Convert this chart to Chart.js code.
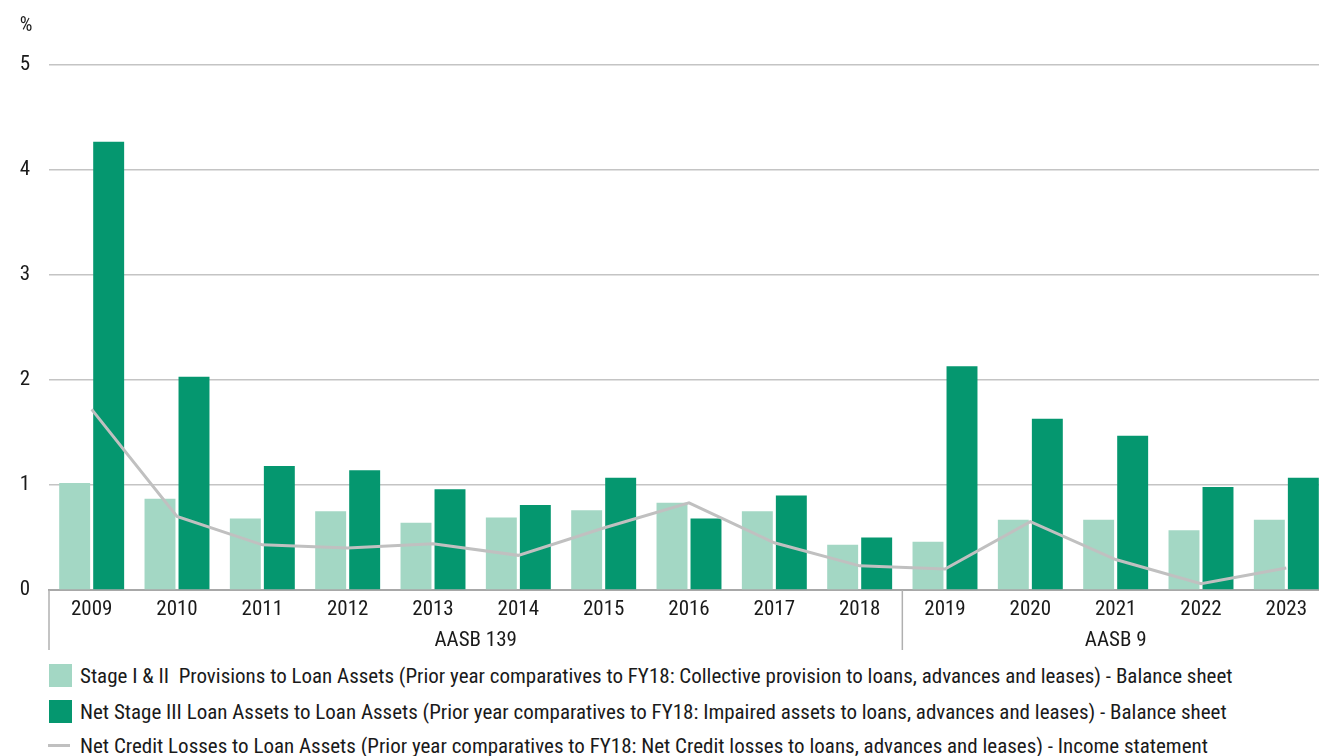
<!DOCTYPE html>
<html>
<head>
<meta charset="utf-8">
<script src="https://cdn.jsdelivr.net/npm/chart.js@4.4.1/dist/chart.umd.min.js"></script>
<style>
  html, body { margin: 0; padding: 0; background: #ffffff; overflow: hidden; width: 1319px; height: 756px; }
  #wrap { position: absolute; left: 0; top: 0; width: 1330px; height: 660px; }
  .leg { position: absolute; left: 0; height: 24px; font-family: 'Roboto Condensed', 'DejaVu Sans Condensed', sans-serif; font-size: 21px; line-height: 24px; color: #1a1a1a; white-space: nowrap; }
  .leg .sw { position: absolute; left: 49px; top: 0px; width: 23px; height: 23px; }
  .leg .ln { position: absolute; left: 48px; top: 10px; width: 22px; height: 3px; background: #c0c0c0; }
  .leg .tx { position: absolute; left: 80px; top: 0px; }
</style>
</head>
<body>
<div id="wrap"><canvas id="c"></canvas></div>
<div class="leg" style="top:664px"><div class="sw" style="background:#a3d7c4"></div><div class="tx">Stage I &amp; II&nbsp; Provisions to Loan Assets (Prior year comparatives to FY18: Collective provision to loans, advances and leases) - Balance sheet</div></div>
<div class="leg" style="top:700px"><div class="sw" style="background:#05976f"></div><div class="tx">Net Stage III Loan Assets to Loan Assets (Prior year comparatives to FY18: Impaired assets to loans, advances and leases) - Balance sheet</div></div>
<div class="leg" style="top:734px"><div class="ln"></div><div class="tx">Net Credit Losses to Loan Assets (Prior year comparatives to FY18: Net Credit losses to loans, advances and leases) - Income statement</div></div>
<script>
const categories = ['2009','2010','2011','2012','2013','2014','2015','2016','2017','2018','2019','2020','2021','2022','2023'];
const stage12Provisions = [1.02,0.87,0.68,0.75,0.64,0.69,0.76,0.83,0.75,0.43,0.46,0.67,0.67,0.57,0.67];
const netStage3 = [4.27,2.03,1.18,1.14,0.96,0.81,1.07,0.68,0.90,0.50,2.13,1.63,1.47,0.98,1.07];
const netCreditLosses = [1.72,0.70,0.43,0.40,0.44,0.33,0.59,0.83,0.45,0.23,0.20,0.65,0.29,0.06,0.21];
const groupLabels = ['AASB 139','AASB 9'];
const groupSizes = [10,5];
const yTicks = [0,1,2,3,4,5];
const unitLabel = '%';

const FONT = "'Roboto Condensed', 'DejaVu Sans Condensed', sans-serif";

const groupPlugin = {
  id: 'groups',
  afterDraw(chart) {
    const ctx = chart.ctx;
    const x = chart.scales.x;
    const area = chart.chartArea;
    const half = (x.getPixelForValue(1) - x.getPixelForValue(0)) / 2;
    ctx.save();
    ctx.strokeStyle = '#b0b0b0';
    ctx.lineWidth = 1.5;
    let start = 0;
    const seps = [x.getPixelForValue(0) - half];
    groupSizes.forEach(s => { start += s; if (start < categories.length) seps.push(x.getPixelForValue(start) - half); });
    seps.forEach(px => {
      ctx.beginPath();
      ctx.moveTo(px, area.bottom);
      ctx.lineTo(px, area.bottom + 60);
      ctx.stroke();
    });
    ctx.fillStyle = '#1a1a1a';
    ctx.font = '21px ' + FONT;
    ctx.textAlign = 'center';
    ctx.textBaseline = 'middle';
    start = 0;
    groupLabels.forEach((g, i) => {
      const a = x.getPixelForValue(start);
      const b = x.getPixelForValue(start + groupSizes[i] - 1);
      ctx.fillText(g, (a + b) / 2, area.bottom + 51);
      start += groupSizes[i];
    });
    ctx.font = '20px ' + FONT;
    ctx.fillText(unitLabel, 26, 26);
    ctx.restore();
  }
};

new Chart(document.getElementById('c'), {
  type: 'bar',
  data: {
    labels: categories,
    datasets: [
      { type: 'line', label: 'Net Credit Losses', data: netCreditLosses, borderColor: '#c0c0c0', backgroundColor: '#c0c0c0', borderWidth: 3, pointRadius: 0, tension: 0, order: 0 },
      { label: 'Stage I & II', data: stage12Provisions, backgroundColor: '#a3d7c4', order: 1, categoryPercentage: 0.797, barPercentage: 0.91 },
      { label: 'Net Stage III', data: netStage3, backgroundColor: '#05976f', order: 2, categoryPercentage: 0.797, barPercentage: 0.91 }
    ]
  },
  options: {
    responsive: true,
    maintainAspectRatio: false,
    animation: false,
    layout: { padding: { top: 65, right: 1, left: 0, bottom: 0 } },
    plugins: { legend: { display: false }, tooltip: { enabled: false } },
    scales: {
      x: {
        grid: { display: false, drawTicks: false },
        border: { display: true, color: '#a8a8a8', width: 2 },
        ticks: { color: '#1a1a1a', font: { family: FONT, size: 21 }, padding: 7, maxRotation: 0, autoSkip: false },
        afterFit(s) { s.height = 70; }
      },
      y: {
        min: 0, max: 5,
        afterBuildTicks(s) { s.ticks = yTicks.map(v => ({ value: v })); },
        grid: { color: (c) => c.tick && c.tick.value === 0 ? 'rgba(0,0,0,0)' : '#c4c4c4', lineWidth: 1.5, drawTicks: false },
        border: { display: false },
        ticks: { color: '#1a1a1a', font: { family: FONT, size: 21 }, padding: 19 },
        afterFit(s) { s.width = 49; }
      }
    }
  },
  plugins: [groupPlugin]
});
</script>
</body>
</html>
